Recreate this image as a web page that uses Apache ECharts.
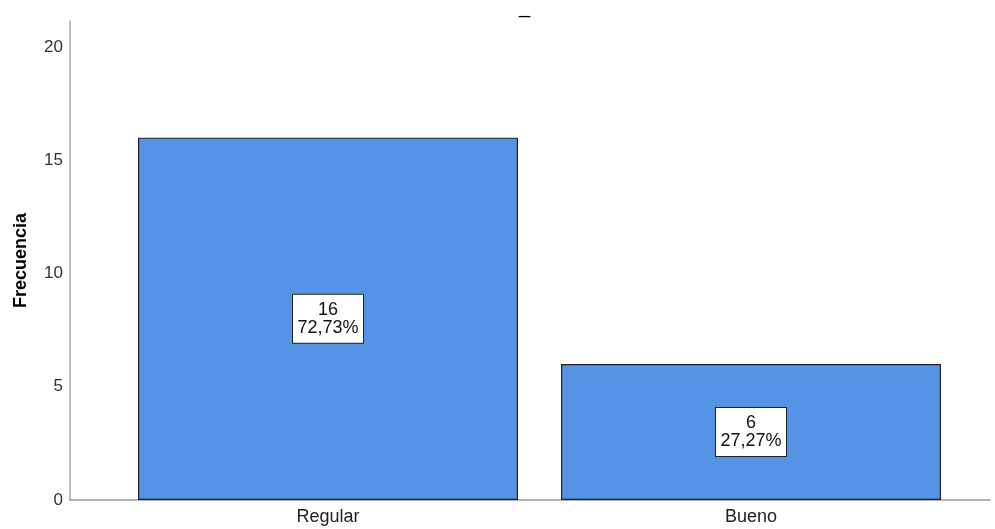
<!DOCTYPE html>
<html>
<head>
<meta charset="utf-8">
<script src="https://cdn.jsdelivr.net/npm/echarts@6/dist/echarts.min.js"></script>
<style>
html,body{margin:0;padding:0;background:#fff;}
#chart{width:995px;height:529px;}
</style>
</head>
<body>
<div id="chart"></div>
<script>
const categories = ['Regular', 'Bueno'];
const frequencies = [16, 6];
const percents = ['72,73%', '27,27%'];
const yTicks = [0, 5, 10, 15, 20];

const chart = echarts.init(document.getElementById('chart'));
const FONT = '"Liberation Sans", Arial, sans-serif';

const option = {
  animation: false,
  backgroundColor: '#ffffff',
  title: {
    text: '_',
    left: 514,
    top: -8,
    textStyle: { fontFamily: FONT, fontSize: 20, fontWeight: 'normal', color: '#000' }
  },
  grid: { left: 70, right: 5, top: 21, bottom: 29, outerBoundsMode: 'none', containLabel: false },
  xAxis: {
    type: 'value',
    min: -0.61,
    max: 1.565,
    axisLine: { show: true, onZero: false, lineStyle: { color: '#9a9a9a', width: 1.5 } },
    axisTick: { show: false },
    splitLine: { show: false },
    axisLabel: {
      customValues: [0, 1],
      formatter: v => categories[Math.round(v)] || '',
      fontFamily: FONT,
      fontSize: 18,
      color: '#222',
      margin: 8
    }
  },
  yAxis: {
    type: 'value',
    min: 0,
    max: 21.15,
    name: 'Frecuencia',
    nameLocation: 'middle',
    nameGap: 40,
    nameTextStyle: { fontFamily: FONT, fontSize: 18, fontWeight: 'bold', color: '#000' },
    axisLine: { show: true, onZero: false, lineStyle: { color: '#a8a8a8', width: 1.5 } },
    axisTick: { show: false },
    splitLine: { show: false },
    axisLabel: {
      customValues: yTicks,
      fontFamily: FONT,
      fontSize: 17,
      color: '#333',
      margin: 7
    }
  },
  series: [{
    type: 'bar',
    barWidth: 380,
    data: frequencies.map((v, i) => [i, v]),
    itemStyle: { color: '#5594e5', borderColor: '#222', borderWidth: 1.2 },
    label: {
      show: true,
      position: 'inside',
      formatter: p => frequencies[p.dataIndex] + '\n' + percents[p.dataIndex],
      fontFamily: FONT,
      fontSize: 18,
      lineHeight: 18,
      color: '#111',
      backgroundColor: '#ffffff',
      borderColor: '#222',
      borderWidth: 1,
      padding: [6, 2, 6, 2],
      width: 66,
      align: 'center'
    }
  }]
};
chart.setOption(option);
</script>
</body>
</html>
